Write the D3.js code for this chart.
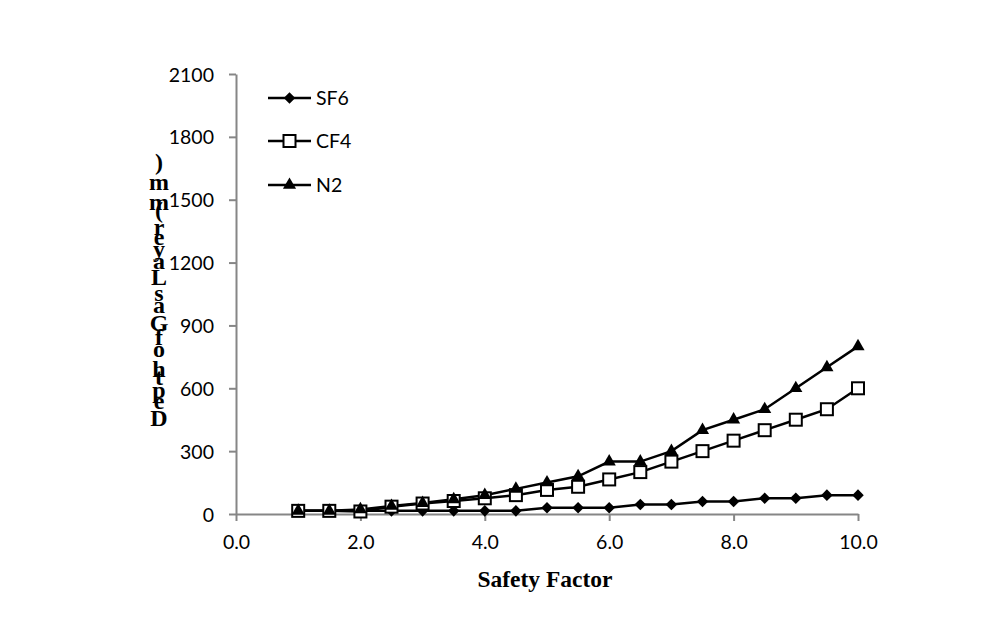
<!DOCTYPE html>
<html><head><meta charset="utf-8">
<script src="https://cdn.jsdelivr.net/npm/d3@7"></script>
<style>
html,body{margin:0;padding:0;background:#fff;}
svg{display:block;}
</style></head>
<body>
<svg id="chart" width="998" height="622"></svg>
<script>
const safetyFactor = [1,1.5,2,2.5,3,3.5,4,4.5,5,5.5,6,6.5,7,7.5,8,8.5,9,9.5,10];
const sf6 = [15,15,15,15,15,15,15,15,30,30,30,45,45,60,60,75,75,90,90];
const cf4 = [15,15,12,35,50,62,75,90,115,130,165,200,250,300,350,400,450,500,600];
const n2  = [15,15,22,38,52,70,90,120,150,180,250,250,300,400,450,500,600,700,800];
const seriesNames = ["SF6","CF4","N2"];
const xTicks = [0,2,4,6,8,10];
const yTicks = [0,300,600,900,1200,1500,1800,2100];
const xTitle = "Safety Factor";
const yTitle = "Depth of Gas Layer (mm)";

const svg = d3.select("#chart");
const x = d3.scaleLinear().domain([0,10]).range([236,858]);
const y = d3.scaleLinear().domain([0,2100]).range([514,74]);
const axisColor = "#868686";
const tickFont = "Lato, 'Open Sans', sans-serif";

// axes
const xAxis = svg.append("g").attr("transform","translate(0,514)")
  .call(d3.axisBottom(x).tickValues(xTicks).tickFormat(d3.format(".1f")).tickSizeInner(7).tickSizeOuter(0).tickPadding(14));
const yAxis = svg.append("g").attr("transform","translate(236,0)")
  .call(d3.axisLeft(y).tickValues(yTicks).tickFormat(d3.format("d")).tickSizeInner(7).tickSizeOuter(0).tickPadding(15));
[xAxis,yAxis].forEach(g=>{
  g.select(".domain").attr("stroke",axisColor).attr("stroke-width",2);
  g.selectAll(".tick line").attr("stroke",axisColor).attr("stroke-width",2);
  g.selectAll(".tick text").attr("fill","#000").style("font-family",tickFont).style("font-size","19.5px");
});
yAxis.selectAll(".tick text").attr("dy","0.36em");

// lines
const series = [
  {name:seriesNames[0], values:sf6, marker:"diamond"},
  {name:seriesNames[1], values:cf4, marker:"square"},
  {name:seriesNames[2], values:n2, marker:"triangle"}
];
const line = d3.line().x((d,i)=>x(safetyFactor[i])).y(d=>y(d));
function drawMarker(g, type, cx, cy){
  if(type==="diamond"){
    g.append("path").attr("d",d3.symbol().type(d3.symbolDiamond2).size(85)())
      .attr("transform",`translate(${cx},${cy})`).attr("fill","#000");
  } else if(type==="square"){
    g.append("rect").attr("x",cx-6).attr("y",cy-6).attr("width",12).attr("height",12)
      .attr("fill","#fff").attr("stroke","#000").attr("stroke-width",2);
  } else {
    g.append("path").attr("d",d3.symbol().type(d3.symbolTriangle).size(75)())
      .attr("transform",`translate(${cx},${cy})`).attr("fill","#000");
  }
}
series.forEach(s=>{
  svg.append("path").datum(s.values).attr("d",line)
    .attr("fill","none").attr("stroke","#000").attr("stroke-width",2.5);
});
series.forEach(s=>{
  const g = svg.append("g");
  s.values.forEach((v,i)=>drawMarker(g, s.marker, x(safetyFactor[i]), y(v)));
});

// legend
const legY = [98,141,185];
series.forEach((s,i)=>{
  const g = svg.append("g");
  g.append("line").attr("x1",268).attr("x2",311).attr("y1",legY[i]).attr("y2",legY[i])
    .attr("stroke","#000").attr("stroke-width",2.5);
  drawMarker(g, s.marker, 289.5, legY[i]);
  g.append("text").attr("x",316).attr("y",legY[i]).attr("dy","0.36em")
    .style("font-family",tickFont).style("font-size","19.5px").text(s.name);
});

// x title
svg.append("text").attr("x",545).attr("y",587)
  .attr("text-anchor","middle")
  .style("font-family","'Liberation Serif', 'Times New Roman', serif")
  .style("font-weight","bold").style("font-size","23.5px").text(xTitle);

// y title: upright stacked glyphs, advancing upward by glyph width
const yt = svg.append("g").style("font-family","'Liberation Serif', 'Times New Roman', serif")
  .style("font-weight","bold").style("font-size","24px");
let cursor = 426;
for(const ch of yTitle){
  const t = yt.append("text").attr("x",159).attr("y",cursor).attr("text-anchor","middle").text(ch===" "?"\u00a0":ch);
  const w = t.node().getComputedTextLength();
  if(ch===" ") t.remove();
  cursor -= w;
}
</script>
</body></html>
